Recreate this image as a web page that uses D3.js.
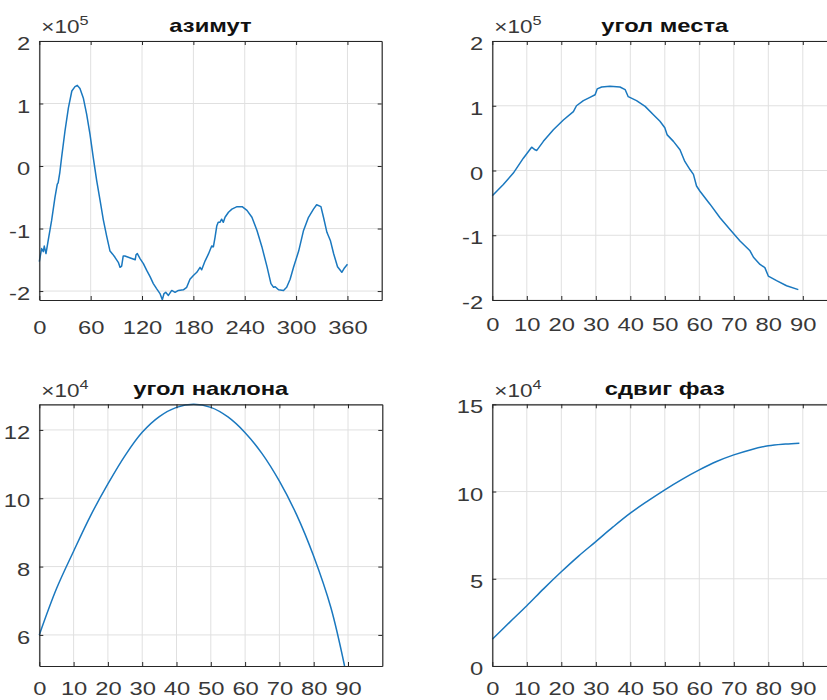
<!DOCTYPE html>
<html>
<head>
<meta charset="utf-8">
<script src="https://cdn.jsdelivr.net/npm/d3@7"></script>
<style>
    body { margin: 0; background: #fff; }
    svg { display: block; font-family: "Liberation Sans", Arial, sans-serif; }
</style>
</head>
<body>
<svg id="chart" width="827" height="700"></svg>
<script>
// азимут, values in units of 1e5
var azimuthX = [0, 2.7, 4.7, 5.8, 7.8, 10.5, 14.4, 18.3, 21, 22, 24, 26, 30, 34, 38, 41.7, 44.4, 47.5, 51.4, 55.3,
    59.2, 63, 67, 70.9, 74.8, 78.7, 82.6, 85.7, 88.4, 92.3, 94.3, 96.2, 98, 100, 104, 108, 112, 113, 114.5, 117.7,
    121.6, 125.5, 129.4, 133.2, 137, 141, 143.7, 145.7, 147.7, 150.8, 154.7, 158.6, 162.5, 168.3, 172.2, 176, 180,
    184, 187.8, 189.7, 193.6, 197.5, 201.4, 203.4, 205.3, 207.3, 209, 211, 213, 215, 217, 221, 225, 231, 237, 242.6,
    248.4, 254.3, 260, 266, 270.6, 273.7, 275.6, 279.5, 285.3, 289, 293, 297, 303, 308.7, 314.5, 320.3, 324, 329,
    332, 336, 340, 343.8, 348.4, 353.4, 356, 360];
var azimuthY = [-1.53, -1.32, -1.37, -1.28, -1.4, -1.18, -0.87, -0.5, -0.29, -0.27, -0.1, 0.13, 0.56, 0.93, 1.2, 1.27,
    1.29, 1.24, 1.09, 0.83, 0.51, 0.14, -0.23, -0.54, -0.86, -1.12, -1.36, -1.41, -1.46, -1.54, -1.62, -1.6, -1.44,
    -1.44, -1.46, -1.48, -1.5, -1.42, -1.4, -1.48, -1.56, -1.67, -1.77, -1.88, -1.96, -2.04, -2.14, -2.04, -2.02,
    -2.07, -1.99, -2.02, -1.99, -1.98, -1.94, -1.81, -1.75, -1.7, -1.62, -1.66, -1.52, -1.41, -1.28, -1.29, -1.14,
    -0.96, -0.9, -0.9, -0.85, -0.9, -0.82, -0.74, -0.69, -0.65, -0.65, -0.71, -0.82, -1.03, -1.29, -1.61, -1.88,
    -1.94, -1.93, -1.98, -1.99, -1.94, -1.81, -1.62, -1.36, -1.03, -0.82, -0.69, -0.62, -0.65, -0.82, -1.06, -1.19,
    -1.4, -1.61, -1.7, -1.64, -1.57];

// угол места, units of 1e5
var elevationX = [0, 3.2, 6.1, 9, 11.4, 12.4, 12.9, 14.8, 17.7, 20.6, 23.5, 24.4, 26.4, 28.3, 29.8, 30.4, 31.7, 34.1,
    37, 38.5, 39.4, 41.8, 44.3, 46.7, 48.6, 50, 50.7, 52.5, 54.4, 55.8, 57.3, 58.3, 59.2, 60.2, 63.1, 66, 68.9, 71.8,
    74.7, 75.7, 77.6, 79, 80, 82.4, 85.3, 88.7];
var elevationY = [-0.39, -0.215, -0.04, 0.19, 0.36, 0.32, 0.31, 0.45, 0.63, 0.78, 0.91, 1.0, 1.08, 1.13, 1.17, 1.26,
    1.29, 1.3, 1.29, 1.25, 1.14, 1.08, 0.99, 0.86, 0.76, 0.66, 0.55, 0.45, 0.32, 0.14, 0.015, -0.06, -0.24, -0.32,
    -0.52, -0.73, -0.91, -1.09, -1.24, -1.34, -1.45, -1.5, -1.63, -1.7, -1.78, -1.84];

// угол наклона, units of 1e4
var tiltX = [0, 5, 10, 15, 20, 25, 30, 35, 40, 45, 50, 55, 60, 65, 70, 75, 80, 85, 89];
var tiltY = [6.0, 7.35, 8.45, 9.5, 10.42, 11.25, 11.93, 12.39, 12.66, 12.75, 12.66, 12.38, 11.92, 11.3, 10.5, 9.52,
    8.3, 6.8, 5.09];

// сдвиг фаз, units of 1e4
var phaseX = [0, 5, 10, 15, 20, 25, 30, 35, 40, 45, 50, 55, 60, 65, 70, 75, 80, 85, 89];
var phaseY = [1.53, 2.5, 3.45, 4.45, 5.4, 6.3, 7.13, 7.97, 8.76, 9.45, 10.1, 10.7, 11.24, 11.72, 12.1, 12.4, 12.62,
    12.72, 12.77];

var titles = ["азимут", "угол места", "угол наклона", "сдвиг фаз"];
var exponents = ["5", "5", "4", "4"];
var ticksX60 = [0, 60, 120, 180, 240, 300, 360];
var ticksX10 = [0, 10, 20, 30, 40, 50, 60, 70, 80, 90];
var ticksYPm2 = [-2, -1, 0, 1, 2];
var ticksYTilt = [6, 8, 10, 12];
var ticksYPhase = [0, 5, 10, 15];

var panels = [
    { left: 39.3, top: 41, w: 342.4, h: 259, xd: [0, 400], yd: [-2.143, 2], xs: azimuthX, ys: azimuthY,
        xt: ticksX60, yt: ticksYPm2, pad: 21, smooth: false },
    { left: 492.3, top: 41, w: 345, h: 259, xd: [0, 100], yd: [-2, 2], xs: elevationX, ys: elevationY,
        xt: ticksX10, yt: ticksYPm2, pad: 18, smooth: false },
    { left: 39.3, top: 404.3, w: 343, h: 261.7, xd: [0, 100], yd: [5.09, 12.75], xs: tiltX, ys: tiltY,
        xt: ticksX10, yt: ticksYTilt, pad: 15.8, smooth: true },
    { left: 492.3, top: 404.3, w: 345, h: 261.7, xd: [0, 100], yd: [0, 15], xs: phaseX, ys: phaseY,
        xt: ticksX10, yt: ticksYPhase, pad: 15.8, smooth: true }
];

var svg = d3.select("#chart"),
    ink = "#262626",
    stretch = "scale(1.25,1)";

panels.forEach(function (p, i) {
    var x = d3.scaleLinear().domain(p.xd).range([0, p.w]),
        y = d3.scaleLinear().domain(p.yd).range([p.h, 0]);
    var g = svg.append("g").attr("transform", "translate(" + p.left + "," + p.top + ")");

    // grid
    g.selectAll(".gx").data(p.xt).enter().append("line")
        .attr("x1", x).attr("x2", x).attr("y1", 0).attr("y2", p.h)
        .attr("stroke", "#e0e0e0").attr("stroke-width", 1);
    g.selectAll(".gy").data(p.yt).enter().append("line")
        .attr("y1", y).attr("y2", y).attr("x1", 0).attr("x2", p.w)
        .attr("stroke", "#e0e0e0").attr("stroke-width", 1);

    // data line
    var pts = p.xs.map(function (v, k) { return [v, p.ys[k]]; });
    var line = d3.line()
        .x(function (d) { return x(d[0]); })
        .y(function (d) { return y(d[1]); })
        .curve(p.smooth ? d3.curveCatmullRom : d3.curveLinear);
    g.append("path").datum(pts)
        .attr("d", line)
        .attr("fill", "none")
        .attr("stroke", "#1a78bf")
        .attr("stroke-width", 1.5)
        .attr("stroke-linejoin", "round");

    // axes, ticks inward on all four sides
    var fmt = function (d) { return String(d); },
        none = function () { return ""; };
    var axes = [
        [d3.axisBottom(x).tickValues(p.xt).tickFormat(fmt).tickPadding(p.pad), "translate(0," + p.h + ")"],
        [d3.axisTop(x).tickValues(p.xt).tickFormat(none), "translate(0,0)"],
        [d3.axisLeft(y).tickValues(p.yt).tickFormat(fmt).tickPadding(7.3), "translate(0,0)"],
        [d3.axisRight(y).tickValues(p.yt).tickFormat(none), "translate(" + p.w + ",0)"]
    ];
    axes.forEach(function (a, k) {
        var ax = g.append("g").attr("transform", a[1])
            .call(a[0].tickSizeInner(-4).tickSizeOuter(0));
        ax.select(".domain").attr("stroke", ink).attr("stroke-width", 1.2);
        ax.selectAll(".tick line").attr("stroke", ink);
        ax.selectAll("text")
            .attr("fill", "#383838")
            .attr("font-size", 19)
            .attr("font-family", "Liberation Sans, Arial, sans-serif")
            .attr("transform", stretch);
        if (k === 2) ax.selectAll("text").attr("dy", "0.45em");
    });

    // exponent label
    var ex = g.append("text")
        .attr("transform", "translate(" + 2 + "," + -7.7 + ") " + stretch)
        .attr("fill", "#383838")
        .attr("font-size", 18);
    ex.append("tspan").text("×10");
    ex.append("tspan").attr("font-size", 13).attr("dy", -8).text(exponents[i]);

    // title
    g.append("text")
        .attr("transform", "translate(" + (p.w / 2) + "," + -9.5 + ") " + stretch)
        .attr("text-anchor", "middle")
        .attr("font-size", 19)
        .attr("font-weight", "bold")
        .attr("fill", "#111")
        .text(titles[i]);
});
</script>
</body>
</html>
